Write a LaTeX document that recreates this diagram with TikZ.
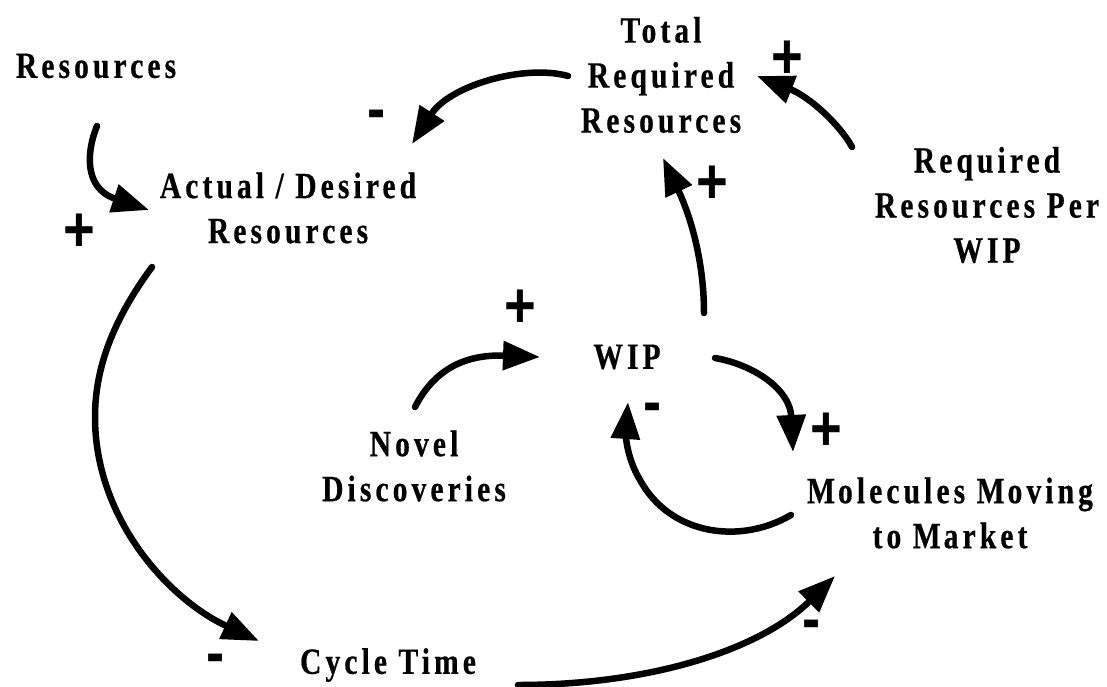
\documentclass[tikz,border=0pt]{standalone}
\usepackage{fontspec}
\setmainfont{Liberation Serif}[FakeStretch=0.8,LetterSpace=11,BoldFeatures={FakeBold=0.5}]
\newfontfamily\signfont{Liberation Sans}[FakeStretch=0.85]
\usetikzlibrary{arrows.meta,calc}
\begin{document}
\begin{tikzpicture}[x=1pt,y=-1pt,
  var/.style={align=center,inner sep=0pt,font=\bfseries\fontsize{37}{45}\selectfont},
  sign/.style={anchor=base,inner sep=0pt,font=\signfont\bfseries\fontsize{64}{64}\selectfont},
  link/.style={line width=6.5pt,line cap=round,-{Triangle[length=37pt,width=28pt]}}]
\useasboundingbox (0,0) rectangle (1107,687);

% variables
\node[var] (res)  at (96,66)   {Resources};
\node[var] (ad)   at (288,208) {Actual / Desired\\Resources};
\node[var] (trr)  at (661,75)  {Total\\Required\\Resources};
\node[var] (rrpw) at (987,205) {Required\\Resources Per\\W\kern4pt IP};
\node[var] (wip)  at (627,357) {W\kern4pt IP};
\node[var] (nd)   at (414,466) {Novel\\Discoveries};
\node[var] (mmm)  at (950,513) {M\kern3pt olecules M\kern3pt oving\\to M\kern3pt arket};
\node[var] (ct)   at (388,665) {Cycle Time};

% polarity signs
\node[sign] (s1) at (79.5,251)  {+};
\node[sign] (s2) at (376.5,130.5) {-};
\node[sign] (s3) at (787,79)    {+};
\node[sign] (s4) at (712.5,204) {+};
\node[sign] (s5) at (520,327)   {+};
\node[sign] (s6) at (653,423)   {-};
\node[sign] (s7) at (826,450)   {+};
\node[sign] (s8) at (811.5,640.5) {-};
\node[sign] (s9) at (216,674.5) {-};

% causal links
\draw[link] ($(res)+(1,60)$) .. controls (87,150) and (83,188) .. ($(ad)+(-139,2)$);
\draw[link] ($(trr)+(-93,1)$) .. controls (525,64) and (450,85) .. ($(ad)+(124,-64)$);
\draw[link] ($(rrpw)+(-135,-58)$) .. controls (840,125) and (810,97) .. ($(trr)+(96,1)$);
\draw[link] ($(wip)+(77,-44)$) .. controls (704,260) and (690,215) .. ($(trr)+(2,83)$);
\draw[link] ($(nd)+(1,-59)$) .. controls (433,372) and (462,354) .. ($(wip)+(-87,0)$);
\draw[link] ($(wip)+(88,1)$) .. controls (755,365) and (790,390) .. ($(mmm)+(-157,-61)$);
\draw[link] ($(mmm)+(-159,2)$) .. controls (740,545) and (670,535) .. (640,480)
   .. controls (625,455) and (626,430) .. ($(wip)+(1,45)$);
\draw[link] ($(ad)+(-136,59)$) .. controls (113,320) and (95,368) .. (95,417)
   .. controls (95,520) and (170,600) .. ($(ct)+(-129,-24)$);
\draw[link] ($(ct)+(130,20)$) .. controls (650,685) and (760,650) .. ($(mmm)+(-115,63)$);
\end{tikzpicture}
\end{document}
